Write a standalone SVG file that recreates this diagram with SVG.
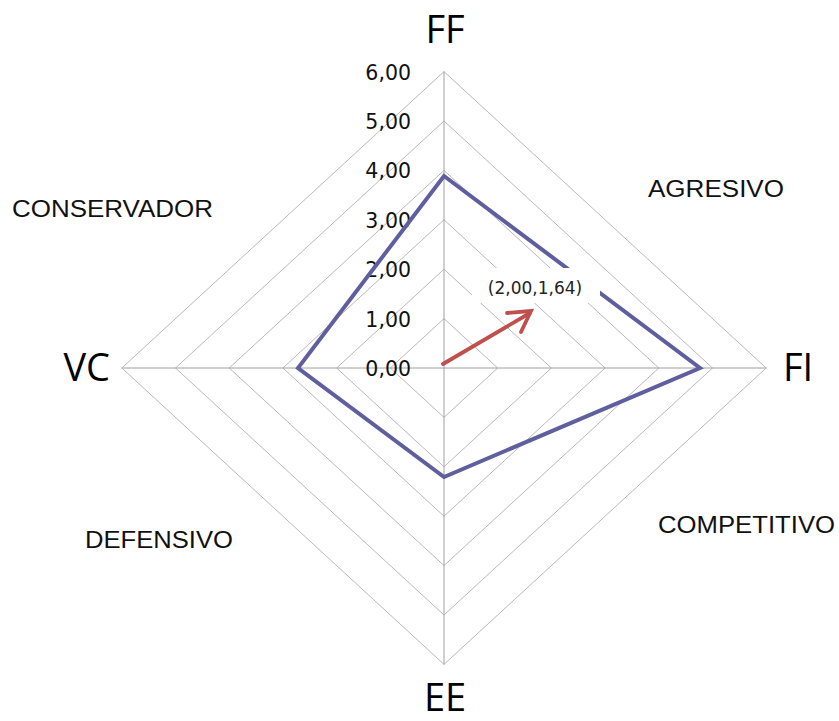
<svg xmlns="http://www.w3.org/2000/svg" width="839" height="721" viewBox="0 0 839 721">
<style>
.grid{fill:none;stroke:#b9b9b9;stroke-width:1}
.axis{stroke:#a0a0a0;stroke-width:1}
.val{font-family:"DejaVu Sans",sans-serif;font-size:20.5px;fill:#111;text-anchor:end}
.big{font-family:"Open Sans","Liberation Sans",sans-serif;font-size:38px;fill:#000}
.quad{font-family:"Liberation Sans",Arial,sans-serif;font-size:23px;fill:#111}
.data{fill:none;stroke:#5f5f9f;stroke-width:4;stroke-linejoin:miter}
.arrow{fill:none;stroke:#c0504d;stroke-width:3.8;stroke-linecap:round}
</style>
<rect width="839" height="721" fill="#fff"/>
<g id="grid">
<polygon class="grid" points="444,318.6 497.7,368 444,417.4 390.3,368"/>
<polygon class="grid" points="444,269.2 551.4,368 444,466.8 336.6,368"/>
<polygon class="grid" points="444,219.8 605.1,368 444,516.2 282.9,368"/>
<polygon class="grid" points="444,170.4 658.8,368 444,565.6 229.2,368"/>
<polygon class="grid" points="444,121 712.5,368 444,615 175.5,368"/>
<polygon class="grid" points="444,71.6 766.2,368 444,664.4 121.8,368"/>
</g>
<g id="axes">
<line class="axis" x1="444" y1="368" x2="444" y2="71.6"/>
<line class="axis" x1="444" y1="368" x2="766.2" y2="368"/>
<line class="axis" x1="444" y1="368" x2="444" y2="664.4"/>
<line class="axis" x1="444" y1="368" x2="121.8" y2="368"/>
</g>
<g id="axis-values">
<text class="val" x="411" y="80">6,00</text>
<text class="val" x="411" y="129">5,00</text>
<text class="val" x="411" y="178">4,00</text>
<text class="val" x="411" y="228">3,00</text>
<text class="val" x="411" y="277">2,00</text>
<text class="val" x="411" y="327">1,00</text>
<text class="val" x="411" y="376">0,00</text>
</g>
<g id="series">
<polygon class="data" points="444,176 700,368 444,477 298,368"/>
</g>
<g id="axis-labels">
<text id="FF" class="big" x="445" y="43" text-anchor="middle">FF</text>
<text id="FI" class="big" x="783" y="381">FI</text>
<text id="EE" class="big" x="445" y="711" text-anchor="middle" font-size="36">EE</text>
<text id="VC" class="big" x="110" y="381" text-anchor="end">VC</text>
</g>
<g id="quadrants">
<text id="conservador" class="quad" x="12" y="217" textLength="201" lengthAdjust="spacingAndGlyphs">CONSERVADOR</text>
<text id="agresivo" class="quad" x="648" y="197" textLength="136" lengthAdjust="spacingAndGlyphs">AGRESIVO</text>
<text id="defensivo" class="quad" x="85" y="548" textLength="148" lengthAdjust="spacingAndGlyphs">DEFENSIVO</text>
<text id="competitivo" class="quad" x="658" y="533" textLength="177" lengthAdjust="spacingAndGlyphs">COMPETITIVO</text>
</g>
<g id="callout">
<rect x="472" y="268" width="128" height="35" fill="#fff"/>
<text x="535" y="294" text-anchor="middle" font-family="DejaVu Sans,sans-serif" font-size="17" fill="#222">(2,00,1,64)</text>
</g>
<g id="connectors">
<line class="arrow" x1="443" y1="364" x2="530" y2="313"/>
<polyline class="arrow" points="507,313 531,311 521,332"/>
</g>
</svg>
